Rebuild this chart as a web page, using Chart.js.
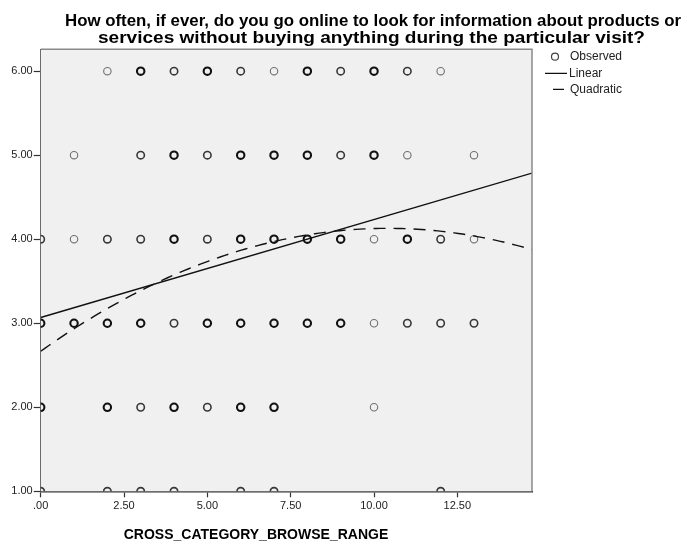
<!DOCTYPE html>
<html>
<head>
<meta charset="utf-8">
<script src="https://cdn.jsdelivr.net/npm/chart.js@4.4.1/dist/chart.umd.min.js"></script>
<style>
  html, body { margin: 0; padding: 0; background: #ffffff; }
  #wrap { width: 688px; height: 544px; position: relative; }
</style>
</head>
<body>
<div id="wrap"><canvas id="c" width="688" height="544"></canvas></div>
<script>
// ---- Text ----
const chartTitle = [
  'How often, if ever, do you go online to look for information about products or',
  'services without buying anything during the particular visit?'
];
const xAxisTitle = 'CROSS_CATEGORY_BROWSE_RANGE';
const legendLabels = ['Observed', 'Linear', 'Quadratic'];

// ---- Axis ticks ----
const xTickValues = [0, 2.5, 5, 7.5, 10, 12.5];
const yTickValues = [1, 2, 3, 4, 5, 6];

// ---- Observed answers: x positions per answer level, and how heavily each mark is overplotted (1 light .. 3 heavy) ----
const row6X = [2, 3, 4, 5, 6, 7, 8, 9, 10, 11, 12];
const row6W = [1, 3, 2, 3, 2, 1, 3, 2, 3, 2, 1];
const row5X = [1, 3, 4, 5, 6, 7, 8, 9, 10, 11, 13];
const row5W = [1, 2, 3, 2, 3, 3, 3, 2, 3, 1, 1];
const row4X = [0, 1, 2, 3, 4, 5, 6, 7, 8, 9, 10, 11, 12, 13];
const row4W = [2, 1, 2, 2, 3, 2, 3, 3, 3, 3, 1, 3, 2, 1];
const row3X = [0, 1, 2, 3, 4, 5, 6, 7, 8, 9, 10, 11, 12, 13];
const row3W = [3, 3, 3, 3, 2, 3, 3, 3, 3, 3, 1, 2, 2, 2];
const row2X = [0, 2, 3, 4, 5, 6, 7, 10];
const row2W = [3, 3, 2, 3, 2, 3, 3, 1];
const row1X = [0, 2, 3, 4, 6, 7, 12];
const row1W = [2, 2, 2, 2, 2, 2, 2];

// ---- Fitted curves: coefficients (constant, x, x^2) ----
const linearCoef = [3.068, 0.1166];
const quadraticCoef = [2.667, 0.281, -0.0135];

const xMin = 0, xMax = 14.74;
const yMin = 1, yMax = 6.26;

// Gather observed marks into one dataset per shade
const rows = [
  { y: 6, xs: row6X, ws: row6W },
  { y: 5, xs: row5X, ws: row5W },
  { y: 4, xs: row4X, ws: row4W },
  { y: 3, xs: row3X, ws: row3W },
  { y: 2, xs: row2X, ws: row2W },
  { y: 1, xs: row1X, ws: row1W }
];
const byWeight = { 1: [], 2: [], 3: [] };
rows.forEach(r => r.xs.forEach((x, i) => byWeight[r.ws[i]].push({ x: x, y: r.y })));

const shade = {
  1: { color: '#707070', width: 1.1 },
  2: { color: '#383838', width: 1.6 },
  3: { color: '#111111', width: 2.1 }
};

// Evaluate the fitted models along the x range
function evalCurve(coef, steps) {
  const pts = [];
  for (let i = 0; i <= steps; i++) {
    const x = xMin + (xMax - xMin) * i / steps;
    let y = 0;
    coef.forEach((c, k) => { y += c * Math.pow(x, k); });
    pts.push({ x: x, y: y });
  }
  return pts;
}

const observedSets = [3, 2, 1].map(w => ({
  label: 'Observed',
  data: byWeight[w],
  showLine: false,
  pointStyle: 'circle',
  pointRadius: 3.7,
  pointHoverRadius: 3.7,
  backgroundColor: 'rgba(0,0,0,0)',
  borderColor: shade[w].color,
  pointBorderWidth: shade[w].width,
  clip: 0
}));

// Draws a line of text stretched to span [x0, x1]
function fitText(ctx, text, x0, x1, y) {
  const w = ctx.measureText(text).width;
  ctx.save();
  ctx.translate(x0, y);
  ctx.scale((x1 - x0) / w, 1);
  ctx.textAlign = 'left';
  ctx.fillText(text, 0, 0);
  ctx.restore();
}

const plotFrame = {
  id: 'plotFrame',
  beforeDatasetsDraw(chart) {
    const { ctx, chartArea: a } = chart;
    ctx.save();
    ctx.fillStyle = '#f0f0f0';
    ctx.fillRect(a.left, a.top, a.right - a.left, a.bottom - a.top);
    ctx.restore();
  },
  afterDraw(chart) {
    const { ctx, chartArea: a } = chart;
    ctx.save();
    // top and right frame
    ctx.strokeStyle = '#8a8a8a';
    ctx.lineWidth = 1.5;
    ctx.beginPath();
    ctx.moveTo(a.left, a.top);
    ctx.lineTo(a.right, a.top);
    ctx.lineTo(a.right, a.bottom);
    ctx.stroke();

    // chart title
    ctx.fillStyle = '#000000';
    ctx.font = 'bold 16px "Liberation Sans", Arial, sans-serif';
    ctx.textBaseline = 'alphabetic';
    fitText(ctx, chartTitle[0], 65, 681, 25.5);
    fitText(ctx, chartTitle[1], 98, 645, 42.5);

    // x axis title
    ctx.font = 'bold 14px "Liberation Sans", Arial, sans-serif';
    ctx.textAlign = 'center';
    ctx.textBaseline = 'middle';
    ctx.fillText(xAxisTitle, 256, 535);

    // legend
    ctx.font = '12px "Liberation Sans", Arial, sans-serif';
    ctx.textAlign = 'left';
    ctx.fillStyle = '#222222';
    ctx.fillText(legendLabels[0], 570, 57);
    ctx.fillText(legendLabels[1], 569, 73.5);
    ctx.fillText(legendLabels[2], 570, 89.5);
    ctx.strokeStyle = '#444444';
    ctx.lineWidth = 1.2;
    ctx.beginPath();
    ctx.arc(555, 56.7, 3.5, 0, Math.PI * 2);
    ctx.stroke();
    ctx.strokeStyle = '#111111';
    ctx.lineWidth = 1.3;
    ctx.beginPath();
    ctx.moveTo(545, 73.3); ctx.lineTo(567, 73.3);
    ctx.moveTo(553, 89.3); ctx.lineTo(564, 89.3);
    ctx.stroke();
    ctx.restore();
  }
};

const tickFont = { family: '"Liberation Sans", Arial, sans-serif', size: 11 };
const fmt = v => (v === 0 ? '.00' : v.toFixed(2));

new Chart(document.getElementById('c'), {
  type: 'scatter',
  data: {
    datasets: [
      {
        label: 'Linear',
        type: 'line',
        data: evalCurve(linearCoef, 1),
        borderColor: '#111111',
        borderWidth: 1.4,
        pointRadius: 0,
        fill: false,
        tension: 0,
        clip: 0
      },
      {
        label: 'Quadratic',
        type: 'line',
        data: evalCurve(quadraticCoef, 120),
        borderColor: '#111111',
        borderWidth: 1.4,
        borderDash: [12, 8],
        pointRadius: 0,
        fill: false,
        tension: 0,
        clip: 0
      },
      ...observedSets
    ]
  },
  options: {
    responsive: false,
    animation: false,
    events: [],
    layout: { padding: { top: 49.3, right: 156, left: 0, bottom: 0 } },
    plugins: {
      legend: { display: false },
      title: { display: false },
      tooltip: { enabled: false }
    },
    scales: {
      x: {
        type: 'linear',
        position: 'bottom',
        min: xMin,
        max: xMax,
        afterFit(s) { s.height = 544 - 491.3; },
        afterBuildTicks(s) { s.ticks = xTickValues.map(v => ({ value: v })); },
        ticks: { callback: v => fmt(v), font: tickFont, color: '#222222', padding: 2, maxRotation: 0, autoSkip: false },
        grid: { drawOnChartArea: false, drawTicks: true, tickLength: 6, color: '#333333', tickWidth: 1.2 },
        border: { display: true, color: '#333333', width: 1.6 }
      },
      y: {
        type: 'linear',
        position: 'left',
        min: yMin,
        max: yMax,
        afterFit(s) { s.width = 40.7; },
        afterBuildTicks(s) { s.ticks = yTickValues.map(v => ({ value: v })); },
        ticks: { callback: v => fmt(v), font: tickFont, color: '#222222', padding: 1, autoSkip: false },
        grid: { drawOnChartArea: false, drawTicks: true, tickLength: 7, color: '#333333', tickWidth: 1.2 },
        border: { display: true, color: '#333333', width: 1.6 }
      }
    }
  },
  plugins: [plotFrame]
});
</script>
</body>
</html>
